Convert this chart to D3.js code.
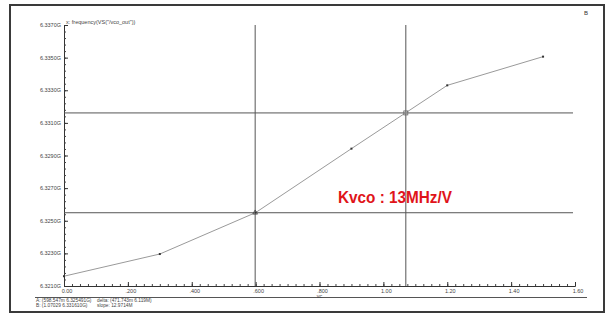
<!DOCTYPE html>
<html><head><meta charset="utf-8">
<script src="https://cdn.jsdelivr.net/npm/d3@7"></script>
<style>html,body{margin:0;padding:0;background:#fff;}svg{display:block;}</style>
</head><body>
<script>
// ---- data ----
const vc = [0, 0.3, 0.6, 0.9, 1.2, 1.5];
const freqG = [6.32160, 6.32296, 6.32550, 6.32942, 6.33330, 6.33506];
const xTicks = [0, 0.2, 0.4, 0.6, 0.8, 1.0, 1.2, 1.4, 1.6];
const xTickLabels = ["0.00", ".200", ".400", ".600", ".800", "1.00", "1.20", "1.40", "1.60"];
const yTicks = [6.3210, 6.3230, 6.3250, 6.3270, 6.3290, 6.3310, 6.3330, 6.3350, 6.3370];
const yTickLabels = ["6.3210G", "6.3230G", "6.3250G", "6.3270G", "6.3290G", "6.3310G", "6.3330G", "6.3350G", "6.3370G"];
const cursorA = [0.598547, 6.325491];
const cursorB = [1.07029, 6.331610];
const infoLines = ["A: (598.547m 6.325491G)", "B: (1.07029 6.331610G)"];
const deltaLines = ["delta: (471.743m 6.119M)", "slope: 12.9714M"];
const traceName = "frequency(VS(\"/vco_out\"))";
const xLabel = "vc";
const annotation = "Kvco : 13MHz/V";

const W = 611, H = 322;
const svg = d3.select("body").append("svg").attr("width", W).attr("height", H);
const x = d3.scaleLinear().domain([0, 1.6]).range([64, 575]);
const y = d3.scaleLinear().domain([6.3210, 6.3370]).range([286, 25]);
const font = "Liberation Sans, Arial, sans-serif";

// outer frame
svg.append("rect").attr("x", 10).attr("y", 5).attr("width", 594).attr("height", 307)
  .attr("fill", "none").attr("stroke", "#3a3a3a").attr("stroke-width", 2);

// x-axis extension line
svg.append("line").attr("x1", 35).attr("x2", 587).attr("y1", 297.5).attr("y2", 297.5)
  .attr("stroke", "#555").attr("stroke-width", 1);

// axes
const xAxis = d3.axisTop(x).tickValues(d3.range(0, 65).map(i => i * 0.025)).tickSize(2).tickFormat("");
const gx = svg.append("g").attr("transform", "translate(0,286)").call(xAxis);
gx.selectAll("line").attr("stroke", "#444");
gx.select(".domain").attr("stroke", "#333");
svg.append("g").attr("transform", "translate(0,286)")
  .call(d3.axisTop(x).tickValues(xTicks).tickSize(4).tickFormat(""))
  .call(g => g.select(".domain").remove())
  .selectAll("line").attr("stroke", "#333");

const yAxis = d3.axisRight(y).tickValues(d3.range(0, 41).map(i => 6.3210 + i * 0.0004)).tickSize(2).tickFormat("");
const gy = svg.append("g").attr("transform", "translate(64,0)").call(yAxis);
gy.selectAll("line").attr("stroke", "#444");
gy.select(".domain").attr("stroke", "#333");
svg.append("g").attr("transform", "translate(64,0)")
  .call(d3.axisRight(y).tickValues(yTicks).tickSize(4).tickFormat(""))
  .call(g => g.select(".domain").remove())
  .selectAll("line").attr("stroke", "#333");

// tick labels
svg.selectAll(".xl").data(xTicks).enter().append("text")
  .attr("x", d => x(d) + 3).attr("y", 293).attr("text-anchor", "middle")
  .attr("font-family", font).attr("font-size", 5.5).attr("fill", "#444")
  .text((d, i) => xTickLabels[i]);
svg.selectAll(".yl").data(yTicks).enter().append("text")
  .attr("x", 61).attr("y", d => y(d) + 2).attr("text-anchor", "end")
  .attr("font-family", font).attr("font-size", 5.5).attr("fill", "#444")
  .text((d, i) => yTickLabels[i]);
svg.append("text").attr("x", x(0.8)).attr("y", 298).attr("text-anchor", "middle")
  .attr("font-family", font).attr("font-size", 5.5).attr("fill", "#444").text(xLabel);

// trace name
svg.append("text").attr("x", 66).attr("y", 24).attr("font-family", font).attr("font-size", 5.5)
  .attr("fill", "#444").text("x:  " + traceName);
svg.append("text").attr("x", 584).attr("y", 15).attr("font-family", font).attr("font-size", 6)
  .attr("fill", "#333").text("B");

// cursor lines
[cursorA, cursorB].forEach(c => {
  svg.append("line").attr("x1", x(c[0])).attr("x2", x(c[0])).attr("y1", y(6.3370)).attr("y2", 286)
    .attr("stroke", "#555").attr("stroke-width", 1);
  svg.append("line").attr("x1", 64).attr("x2", 573).attr("y1", y(c[1])).attr("y2", y(c[1]))
    .attr("stroke", "#555").attr("stroke-width", 1);
});

// data line
const pts = vc.map((v, i) => [v, freqG[i]]);
svg.append("path").datum(pts)
  .attr("d", d3.line().x(d => x(d[0])).y(d => y(d[1])))
  .attr("fill", "none").attr("stroke", "#9a9a9a").attr("stroke-width", 1);
svg.selectAll(".pt").data(pts).enter().append("rect")
  .attr("x", d => x(d[0]) - 1).attr("y", d => y(d[1]) - 1).attr("width", 2).attr("height", 2)
  .attr("fill", "#333");

// cursor markers
svg.append("rect").attr("x", x(cursorB[0]) - 2).attr("y", y(cursorB[1]) - 2).attr("width", 4).attr("height", 4)
  .attr("fill", "none").attr("stroke", "#666").attr("stroke-width", 0.8);
svg.append("path").attr("d", d3.symbol(d3.symbolTriangle, 10)())
  .attr("transform", `translate(${x(cursorA[0])},${y(cursorA[1])})`)
  .attr("fill", "none").attr("stroke", "#444").attr("stroke-width", 0.8);

// info text
infoLines.forEach((t, i) => svg.append("text").attr("x", 36).attr("y", 302 + i * 4.5)
  .attr("font-family", font).attr("font-size", 4.8).attr("fill", "#444").text(t));
deltaLines.forEach((t, i) => svg.append("text").attr("x", 97).attr("y", 302 + i * 4.5)
  .attr("font-family", font).attr("font-size", 4.8).attr("fill", "#444").text(t));

// annotation
svg.append("text").attr("x", 338).attr("y", 202.5)
  .attr("font-family", font).attr("font-size", 16.5).attr("font-weight", "bold").attr("fill", "#e0141a")
  .attr("textLength", 114).attr("lengthAdjust", "spacingAndGlyphs")
  .text(annotation);
</script>
</body></html>
